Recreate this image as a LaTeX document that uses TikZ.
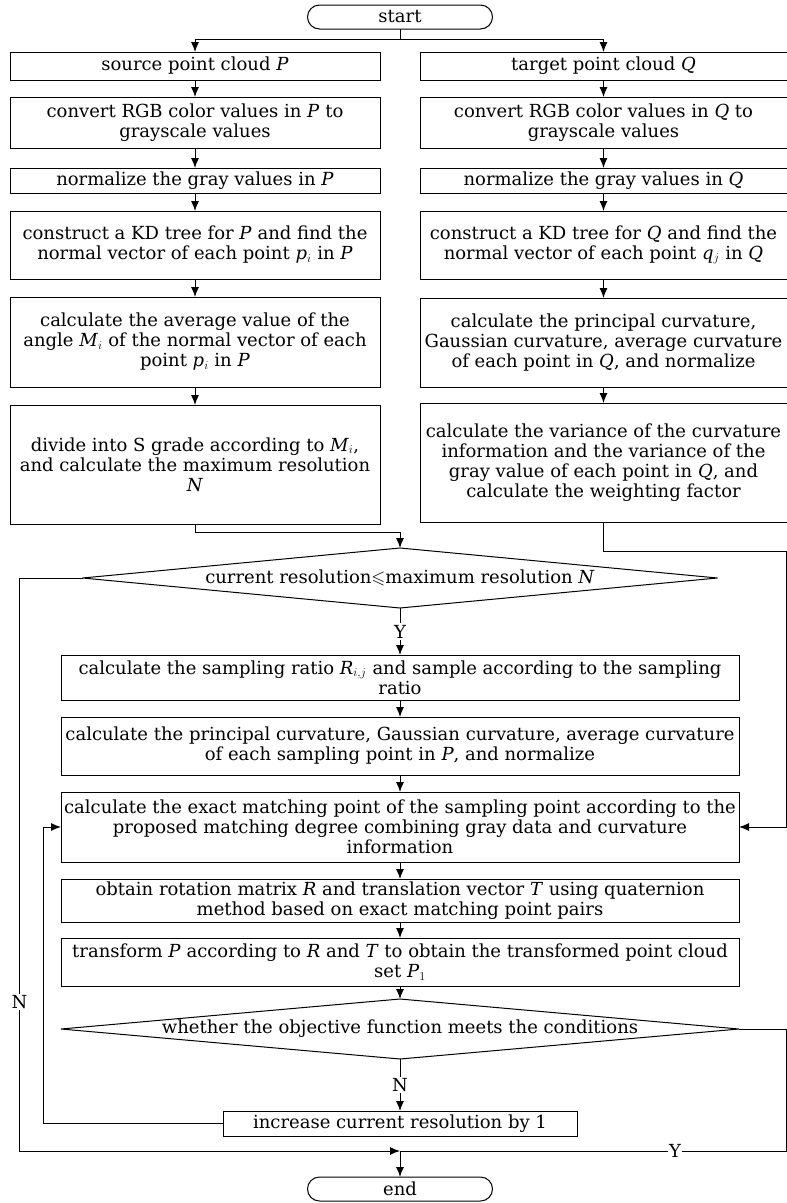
\documentclass[tikz,border=0pt]{standalone}
\usepackage{fontspec}
\setmainfont{DejaVu Serif}
\usepackage{amssymb}
\usetikzlibrary{shapes.geometric, arrows.meta, positioning, calc}
\tikzset{
    block/.style={rectangle, draw, line width=1pt, align=center,
        inner sep=1pt, outer sep=0pt, minimum width=370pt},
    wideblock/.style={block, minimum width=678pt},
    startstop/.style={rectangle, draw, line width=1pt, rounded corners=12pt,
        minimum width=185pt, minimum height=24pt, inner sep=1pt, outer sep=0pt},
    decision/.style={diamond, draw, line width=1pt, inner xsep=0pt,
        inner ysep=-5pt, outer sep=0pt, minimum height=60pt},
    yn/.style={fill=white, inner sep=1.5pt},
    arrow/.style={-{Latex[length=10pt, width=8pt]}, line width=1pt},
    link/.style={line width=1pt}
}
\newcommand{\vr}[1]{\textit{#1}}

\begin{document}
\begin{tikzpicture}[x=1pt, y=-1pt, node distance=18pt,
    font=\fontsize{18}{20}\selectfont]
    \useasboundingbox (0,0) rectangle (787,1203);

    \node[startstop] (start) at (400,17) {start};

    % source cloud P
    \node[block, minimum height=28pt] (srcP) at (195,66) {source point cloud \vr{P}};
    \node[block, minimum height=51pt, below=17pt of srcP] (convP) {convert RGB color values in \vr{P} to\\grayscale values};
    \node[block, minimum height=25pt, below=20pt of convP] (normP) {normalize the gray values in \vr{P}};
    \node[block, minimum height=68pt, below=of normP] (kdP) {construct a KD tree for \vr{P} and find the\\normal vector of each point \vr{p}$_i$ in \vr{P}};
    \node[block, minimum height=90pt, below=of kdP] (avgP) {calculate the average value of the\\angle \vr{M}$_i$ of the normal vector of each\\point \vr{p}$_i$ in \vr{P}};
    \node[block, minimum height=119pt, below=of avgP] (divP) {divide into S grade according to \vr{M}$_i$,\\and calculate the maximum resolution\\\vr{N}};

    % target cloud Q
    \node[block, minimum width=367pt, minimum height=28pt] (tgtQ) at (603.5,66) {target point cloud \vr{Q}};
    \node[block, minimum width=367pt, minimum height=51pt, below=17pt of tgtQ] (convQ) {convert RGB color values in \vr{Q} to\\grayscale values};
    \node[block, minimum width=367pt, minimum height=25pt, below=20pt of convQ] (normQ) {normalize the gray values in \vr{Q}};
    \node[block, minimum width=367pt, minimum height=68pt, below=of normQ] (kdQ) {construct a KD tree for \vr{Q} and find the\\normal vector of each point \vr{q}$_j$ in \vr{Q}};
    \node[block, minimum width=367pt, minimum height=89pt, below=19pt of kdQ] (curvQ) {calculate the principal curvature,\\Gaussian curvature, average curvature\\of each point in \vr{Q}, and normalize};
    \node[block, minimum width=367pt, minimum height=119pt, below=16pt of curvQ] (varQ) {calculate the variance of the curvature\\information and the variance of the\\gray value of each point in \vr{Q}, and\\calculate the weighting factor};

    % registration loop
    \node[decision, aspect=10.6, minimum width=635pt] (cond1) at (400,578) {current resolution$\leqslant$maximum resolution \vr{N}};
    \node[wideblock, minimum height=45pt, below=47pt of cond1] (sample) {calculate the sampling ratio \vr{R}$_{i,j}$ and sample according to the sampling\\ratio};
    \node[wideblock, minimum height=58pt, below=17pt of sample] (curvP) {calculate the principal curvature, Gaussian curvature, average curvature\\of each sampling point in \vr{P}, and normalize};
    \node[wideblock, minimum height=70pt, below=17pt of curvP] (match) {calculate the exact matching point of the sampling point according to the\\proposed matching degree combining gray data and curvature\\information};
    \node[wideblock, minimum height=43pt, below=17pt of match] (rot) {obtain rotation matrix \vr{R} and translation vector \vr{T} using quaternion\\method based on exact matching point pairs};
    \node[wideblock, minimum height=48pt, below=16pt of rot] (trans) {transform \vr{P} according to \vr{R} and \vr{T} to obtain the transformed point cloud\\set \vr{P}$_1$};
    \node[decision, aspect=11.3, minimum width=678pt, below=13pt of trans] (cond2) {whether the objective function meets the conditions};
    \node[block, minimum width=354pt, minimum height=25pt, below=52pt of cond2] (inc) {increase current resolution by 1};
    \node[startstop, below=41pt of inc] (end) {end};

    \coordinate (split) at ($(start.south)+(0,10)$);
    \coordinate (rtop) at (786.3,551);
    \coordinate (join) at (400,1151);

    \draw[link] (start.south) -- (split);
    \draw[arrow] (split) -| (srcP.north);
    \draw[arrow] (split) -| (tgtQ.north);
    \foreach \a/\b in {srcP/convP, convP/normP, normP/kdP, kdP/avgP, avgP/divP,
        tgtQ/convQ, convQ/normQ, normQ/kdQ, kdQ/curvQ, curvQ/varQ,
        sample/curvP, curvP/match, match/rot, rot/trans, trans/cond2}
        \draw[arrow] (\a) -- (\b);
    \draw[arrow] (divP.south) -- ++(0,8) -| (cond1.north);
    \draw[arrow] (varQ.south) |- (rtop) |- (match.east);
    \draw[arrow] (cond1) -- node[yn]{Y} (sample);
    \draw[arrow] (cond2) -- node[yn]{N} (inc);
    \draw[arrow] (inc.west) -- ++(-180,0) |- (match.west);
    \draw[arrow] (cond1.west) -- ++(-63,0) |- node[yn, pos=0.37]{N} (join);
    \draw[link] (cond2.east) -- (cond2.east -| rtop) |- node[yn, pos=0.644]{Y} (join);
    \draw[arrow] (join) -- (end);

\end{tikzpicture}
\end{document}
